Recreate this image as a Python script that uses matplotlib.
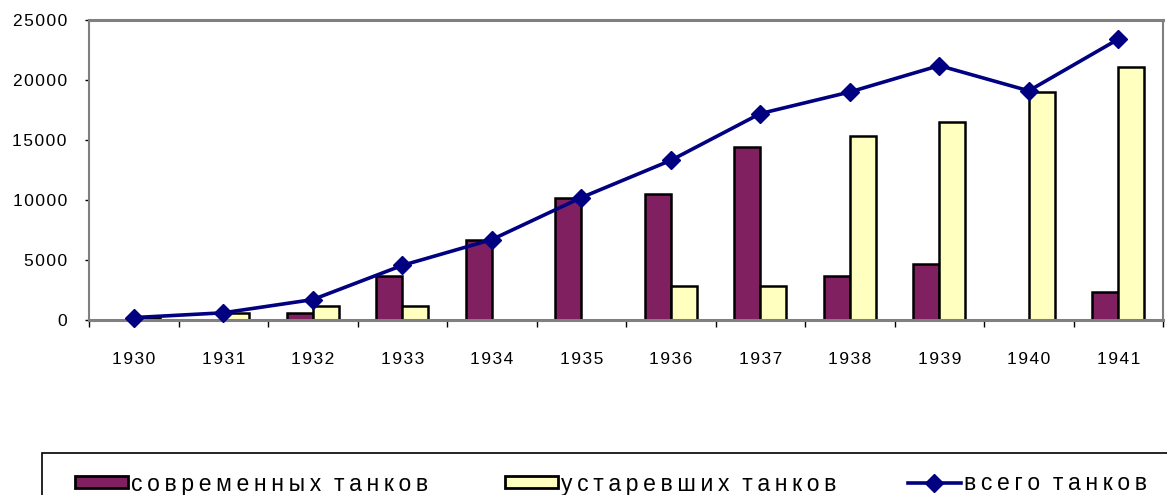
import numpy as np
import matplotlib
matplotlib.use("Agg")
import matplotlib.pyplot as plt
from matplotlib.patches import Patch, Rectangle
from matplotlib.lines import Line2D
from matplotlib.ticker import FuncFormatter, FixedLocator

plt.rcParams['font.family'] = ['Liberation Sans', 'DejaVu Sans']

years = [1930, 1931, 1932, 1933, 1934, 1935, 1936, 1937, 1938, 1939, 1940, 1941]
modern = [0, 0, 550, 3700, 6700, 10200, 10500, 14400, 3700, 4650, 0, 2300]
old = [150, 560, 1200, 1150, 0, 0, 2800, 2800, 15300, 16500, 19000, 21100]
total = [200, 600, 1700, 4550, 6700, 10200, 13300, 17200, 19000, 21200, 19100, 23400]

labels = ["современных танков", "устаревших танков", "всего танков"]

purple = "#802060"
yellow = "#FFFFC0"
navy = "#000080"
gray = "#808080"

THIN = "\u2009"
HAIR = "\u200a"


def spaced(s, sep=THIN):
    # letter-spaced look of the original
    return sep.join(s).replace(sep + " " + sep, "  ")


fig = plt.figure(figsize=(11.67, 4.95), dpi=100)
ax = fig.add_axes([89 / 1167, 1 - 320 / 495, (1163 - 89) / 1167, 300 / 495])

x = np.arange(len(years))
w = 0.29
ax.bar(x - w / 2, modern, w, color=purple, edgecolor="black", linewidth=1.8, zorder=2)
ax.bar(x + w / 2, old, w, color=yellow, edgecolor="black", linewidth=1.8, zorder=2)
ax.plot(x, total, color=navy, lw=2.6, marker="D", ms=9, zorder=3, clip_on=False)

ax.set_xlim(-0.5, len(years) - 0.5)
ax.set_ylim(0, 25000)
ax.set_yticks(range(0, 25001, 5000))
ax.yaxis.set_major_formatter(FuncFormatter(lambda v, p: spaced(str(int(v)), HAIR)))
ax.tick_params(axis="y", length=3, width=1, color="black", pad=13, labelsize=12.5)

ax.set_xticks(x)
ax.set_xticklabels([spaced(str(y), HAIR) for y in years])
ax.xaxis.set_minor_locator(FixedLocator(np.arange(-0.5, len(years), 1.0)))
ax.tick_params(axis="x", which="major", length=0, pad=23, labelsize=12.5)
ax.tick_params(axis="x", which="minor", length=5, width=1, color="black")

for side in ["top", "right", "left", "bottom"]:
    ax.spines[side].set_color(gray)
ax.spines["top"].set_linewidth(2.2)
ax.spines["bottom"].set_linewidth(2.2)
ax.spines["left"].set_linewidth(1.5)
ax.spines["right"].set_linewidth(1.5)

handles = [
    Patch(facecolor=purple, edgecolor="black", linewidth=2),
    Patch(facecolor=yellow, edgecolor="black", linewidth=2),
    Line2D([], [], color=navy, lw=2.6, marker="D", ms=9),
]
starts = [75, 505, 908]
for h, lab, x0 in zip(handles, labels, starts):
    fig.legend([h], [spaced(lab)], loc="center left",
               bbox_to_anchor=(x0 / 1167, 1 - 484 / 495), frameon=False,
               fontsize=16.5, handlelength=2.3, handleheight=0.45,
               handletextpad=0.15, borderpad=0, borderaxespad=0)

fig.patches.append(Rectangle((42 / 1167, -0.2), 1.2, 0.2 + 1 - 453 / 495,
                             transform=fig.transFigure, fill=False,
                             edgecolor="black", linewidth=1.2))

fig.savefig("out.png", dpi=100)
